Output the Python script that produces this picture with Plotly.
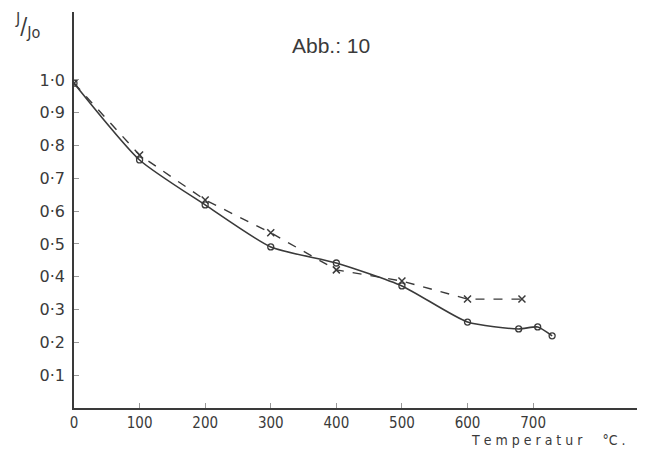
import plotly.graph_objects as go

# Data
temp_circle = [0, 100, 200, 300, 400, 500, 600, 678, 707, 729]
ratio_circle = [0.99, 0.756, 0.619, 0.491, 0.442, 0.372, 0.262, 0.241, 0.247, 0.22]
temp_cross = [0, 100, 200, 300, 400, 500, 600, 683]
ratio_cross = [0.99, 0.771, 0.634, 0.534, 0.421, 0.387, 0.332, 0.332]

y_ticks = [0.1, 0.2, 0.3, 0.4, 0.5, 0.6, 0.7, 0.8, 0.9, 1.0]
y_tick_labels = ["0·1", "0·2", "0·3", "0·4", "0·5", "0·6", "0·7", "0·8", "0·9", "1·0"]
x_ticks = [0, 100, 200, 300, 400, 500, 600, 700]
x_tick_labels = ["0", "100", "200", "300", "400", "500", "600", "700"]

ink = "#3a3a3a"
font_family = "DejaVu Sans Condensed, Liberation Sans, sans-serif"

# page has an 8px body margin, so the figure is sized to fill the rest
OFF = 8
W, H = 645 - OFF, 452 - OFF
l, r, t, b = 74 - OFF, 5, 12 - OFF, 44
pw, ph = W - l - r, H - t - b

def px(xp):
    return (xp - OFF - l) / pw

def py(yp):
    return (H - b - (yp - OFF)) / ph

fig = go.Figure()
fig.add_trace(go.Scatter(
    x=temp_cross, y=ratio_cross, mode="lines+markers",
    line=dict(color=ink, width=1.4, dash="dash", shape="linear"),
    marker=dict(symbol="x-thin", size=7, line=dict(color=ink, width=1.5)),
    showlegend=False))
fig.add_trace(go.Scatter(
    x=temp_circle, y=ratio_circle, mode="lines+markers",
    line=dict(color=ink, width=1.6, shape="spline", smoothing=0.6),
    marker=dict(symbol="circle-open", size=6, color=ink, line=dict(color=ink, width=1.3)),
    showlegend=False))

fig.update_layout(
    width=W, height=H,
    margin=dict(l=l, r=r, t=t, b=b),
    paper_bgcolor="white", plot_bgcolor="white",
    font=dict(family=font_family, color=ink, size=15),
    xaxis=dict(range=[0, 863], tickvals=x_ticks, ticktext=x_tick_labels,
               showgrid=False, zeroline=False, showline=True, linecolor=ink, linewidth=1.5,
               ticks="inside", ticklen=5, tickcolor="#999", tickfont=dict(size=15, color=ink)),
    yaxis=dict(range=[0, 1.207], tickvals=y_ticks, ticktext=y_tick_labels,
               showgrid=False, zeroline=False, showline=True, linecolor=ink, linewidth=1.5,
               ticks="inside", ticklen=5, tickcolor="#999", ticklabelstandoff=4,
               tickfont=dict(size=16, color=ink,
                             family="DejaVu Sans, Liberation Sans, sans-serif")),
)

fig.add_annotation(text="Abb.: 10", x=px(331), y=py(45), xref="paper", yref="paper",
                   xanchor="center", yanchor="middle", showarrow=False,
                   font=dict(size=21, color=ink, family="Liberation Sans, sans-serif"))
fig.add_annotation(text="T e m p e r a t u r     °C .", x=px(548), y=py(440),
                   xref="paper", yref="paper", xanchor="center", yanchor="middle",
                   showarrow=False, font=dict(size=14, color=ink))
fig.add_annotation(text="<sup>J</sup>/<sub>Jo</sub>", x=px(28), y=py(25),
                   xref="paper", yref="paper", xanchor="center", yanchor="middle",
                   showarrow=False, font=dict(size=23, color=ink))

fig.write_html("out.html")
